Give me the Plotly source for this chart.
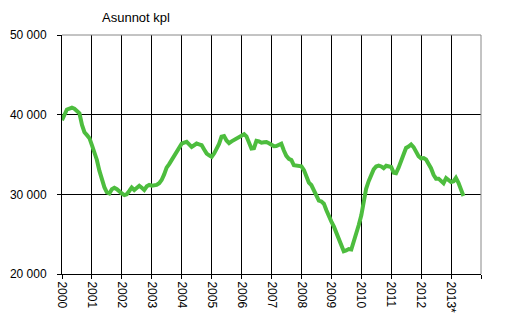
import pandas as pd
import plotly.graph_objects as go

start_month = "2000-01-01"
values = [
    39300, 40000, 40650, 40770, 40870, 40750, 40480, 40170, 38700, 37800, 37430, 37050,
    36150, 35350, 34350, 32970, 31830, 30900, 30250, 30110, 30640, 30830, 30640, 30330,
    30100, 29900, 30010, 30420, 30860, 30550, 30760, 31080, 30820, 30550, 31000, 31180,
    31090, 31080, 31180, 31400, 31800, 32500, 33350, 33800, 34280, 34800, 35320, 35850,
    36370, 36480, 36580, 36260, 35950, 36160, 36370, 36260, 36160, 35640, 35120, 34900,
    34700, 35150, 35700, 36320, 37240, 37320, 36760, 36430, 36650, 36850, 37060, 37270,
    37450, 37550, 37280, 36600, 35740, 35800, 36720, 36640, 36480, 36530, 36550, 36420,
    36250, 36030, 36050, 36200, 36350, 35500, 34830, 34450, 34300, 33650, 33600, 33560,
    33520, 33040, 32260, 31480, 31170, 30570, 29860, 29220, 29110, 28830, 28000, 27210,
    26580, 25940, 25170, 24250, 23480, 22860, 22950, 23130, 23070, 24020, 25050, 26140,
    27370, 29180, 30700, 31650, 32480, 33130, 33490, 33600, 33500, 33280, 33590, 33570,
    33430, 32700, 32640, 33350, 34120, 35180, 35820, 36000, 36250, 35930, 35280, 34780,
    34510, 34550, 34370, 33910, 33280, 32450, 31970, 31970, 31740, 31400, 32030, 31820,
    31550, 31650, 32070, 31450, 30600, 29800,
]
dates = pd.date_range(start_month, periods=len(values), freq="MS")

year_ticks = [f"{y}-01-01" for y in range(2000, 2015)]
year_labels = [str(y) for y in range(2000, 2013)] + ["2013*", ""]
y_ticks = [20000, 30000, 40000, 50000]
y_labels = ["20 000", "30 000", "40 000", "50 000"]
title_text = "Asunnot kpl"

font_family = "Liberation Sans, Arial, sans-serif"

fig = go.Figure()
fig.add_trace(go.Scatter(
    x=dates, y=values, mode="lines",
    line=dict(color="#4dbd3e", width=4),
    hoverinfo="skip", showlegend=False,
))

fig.update_layout(
    width=508, height=320,
    margin=dict(l=54, r=35, t=27, b=54, autoexpand=False),
    paper_bgcolor="white", plot_bgcolor="white",
    font=dict(family=font_family, size=12, color="black"),
    xaxis=dict(
        type="date",
        range=["2000-01-01", "2014-01-01"],
        tickmode="array", tickvals=year_ticks, ticktext=year_labels,
        tickangle=90,
        showgrid=True, gridcolor="black", gridwidth=1,
        showline=True, linecolor="black", linewidth=1,
        ticks="outside", ticklen=4, tickcolor="black",
        zeroline=False, fixedrange=True,
    ),
    yaxis=dict(
        range=[20000, 50000],
        tickmode="array", tickvals=y_ticks, ticktext=y_labels,
        showgrid=True, gridcolor="black", gridwidth=1,
        showline=True, linecolor="black", linewidth=1,
        ticks="outside", ticklen=4, tickcolor="black",
        ticklabelstandoff=8,
        zeroline=False, fixedrange=True,
    ),
    shapes=[
        dict(type="line", xref="paper", yref="paper", x0=0, x1=1, y0=1, y1=1,
             line=dict(color="#888888", width=1), layer="above"),
        dict(type="line", xref="paper", yref="paper", x0=1, x1=1, y0=0, y1=1,
             line=dict(color="#888888", width=1), layer="above"),
    ],
    annotations=[
        dict(text=title_text, xref="paper", yref="paper", x=0.176, y=1.075,
             xanchor="center", yanchor="middle", showarrow=False,
             font=dict(size=13, family=font_family, color="black")),
    ],
)

fig.write_html("out.html")
